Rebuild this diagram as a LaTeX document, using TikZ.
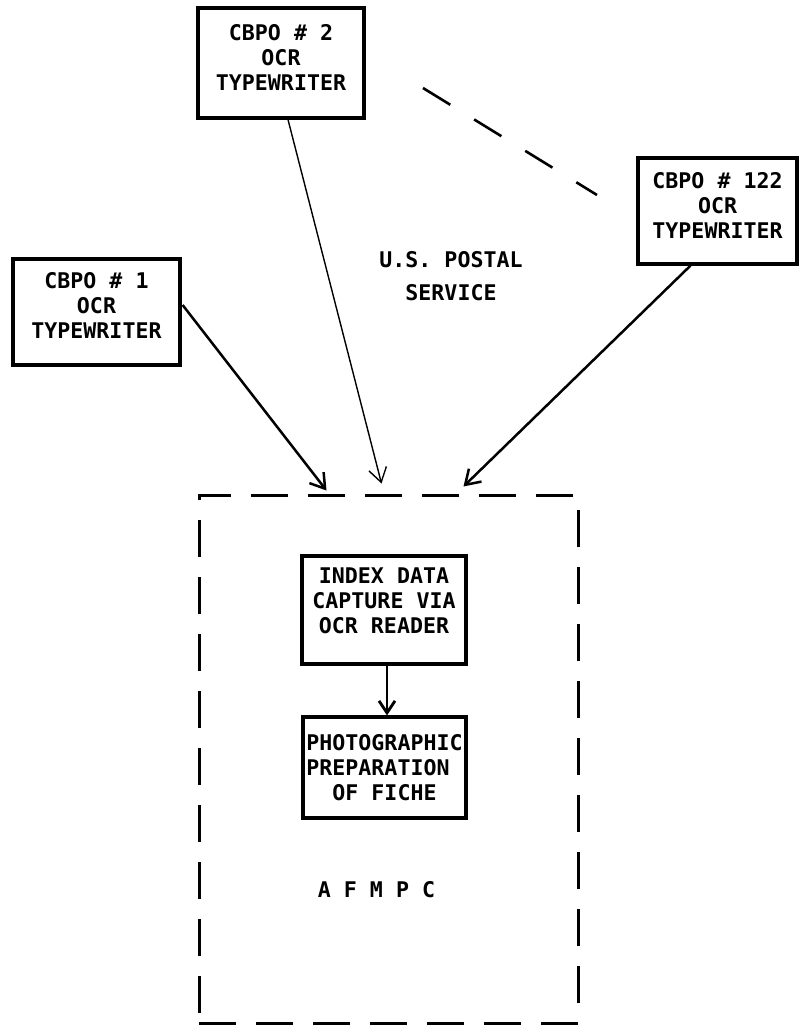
\documentclass[tikz,border=0pt]{standalone}
\usepackage{fontspec}
\newfontfamily\ocrtype{DejaVu Sans Mono Bold}
\usetikzlibrary{arrows.meta,calc}
\begin{document}
\begin{tikzpicture}[x=1pt,y=1pt,
  typed/.style={font={\ocrtype\fontsize{21.6}{25}\selectfont}},
  station/.style={draw,line width=3.2pt,typed,align=center,inner sep=0pt},
  stage/.style={draw,line width=3.2pt,typed,inner sep=0pt},
  centre/.style={draw,line width=3pt,dash pattern=on 37pt off 20pt,inner sep=0pt},
  link/.style={dash pattern=on 32pt off 28pt,line width=2.6pt},
  mail/.style={-{Straight Barb[length=14pt,width=18pt]},line width=2.5pt},
  faintmail/.style={mail,line width=1.4pt},
  flow/.style={-{Straight Barb[length=12pt,width=16pt]},line width=2.8pt}]
\useasboundingbox (0,0) rectangle (799,-1030);

% typewriter stations
\node[station,minimum width=166,minimum height=110,text depth=12pt] (cbpo2) at (281,-63)
  {CBPO \# 2\\OCR\\TYPEWRITER};
\node[station,minimum width=159,minimum height=106,text depth=12pt] (cbpo122) at (717.5,-211)
  {CBPO \# 122\\OCR\\TYPEWRITER};
\node[station,minimum width=167,minimum height=106,text depth=14pt] (cbpo1) at (96.5,-312)
  {CBPO \# 1\\OCR\\TYPEWRITER};

% the stations in between
\coordinate (gapstart) at (423,-88);
\coordinate (gapend) at (597,-195);
\draw[link] (gapstart) -- (gapend);

\node[typed,align=center] (usps) at (451,-276)
  {U.S. POSTAL\\[8pt]SERVICE};

% processing centre
\node[centre,minimum width=379,minimum height=528] (afmpc) at (388.5,-759) {};
\node[stage,align=center,minimum width=164,minimum height=108,text depth=18pt] (capture) at (384,-610)
  {INDEX DATA\\CAPTURE VIA\\OCR READER};
\node[stage,align=left,minimum width=163,minimum height=101] (photo) at (384.5,-767.5)
  {PHOTOGRAPHIC\\PREPARATION\\\hphantom{XX}OF FICHE};
\node[typed] (afmpclabel) at (376.5,-890) {A F M P C};

% mail flow
\draw[mail] ($(cbpo1.east)+(1,7)$) -- ($(afmpc.north west)+(129,3)$);
\draw[faintmail] ($(cbpo2.south)+(7,0)$) -- ($(afmpc.north west)+(184,10)$);
\draw[mail] ($(cbpo122.south)+(-27,0)$) -- ($(afmpc.north west)+(266,7)$);
\draw[flow] ($(capture.south)+(3,0)$) -- ($(photo.north)+(2.5,0)$);
\end{tikzpicture}
\end{document}
